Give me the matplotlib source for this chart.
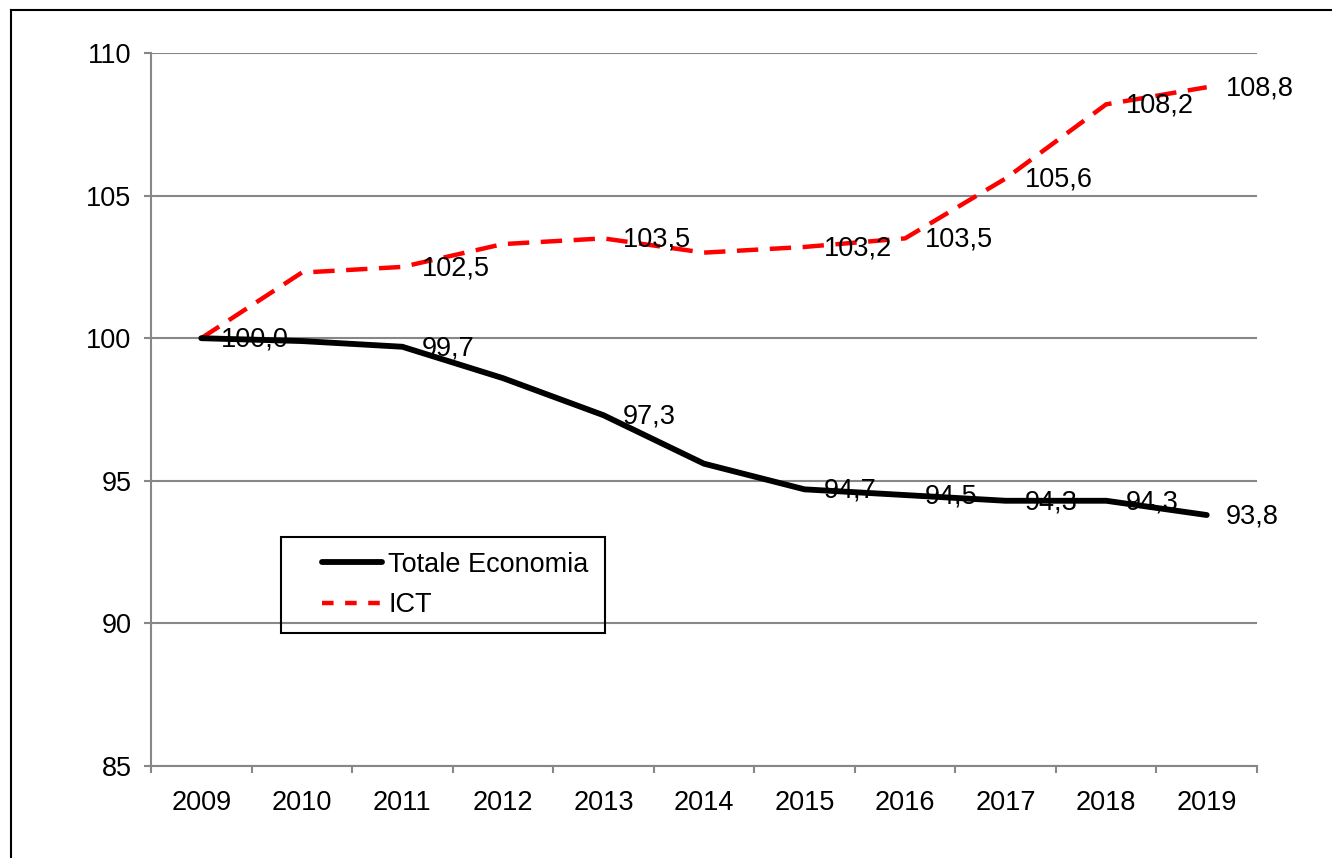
import matplotlib
matplotlib.use("Agg")
import matplotlib.pyplot as plt
from matplotlib.lines import Line2D
from matplotlib.patches import Rectangle

plt.rcParams['font.family'] = ['Liberation Sans Narrow', 'Liberation Sans', 'DejaVu Sans']

years = ['2009', '2010', '2011', '2012', '2013', '2014', '2015', '2016', '2017', '2018', '2019']
totale = [100.0, 99.9, 99.7, 98.6, 97.3, 95.6, 94.7, 94.5, 94.3, 94.3, 93.8]
ict = [100.0, 102.3, 102.5, 103.3, 103.5, 103.0, 103.2, 103.5, 105.6, 108.2, 108.8]
# points that carry a data label in the original
totale_lab = [0, 2, 4, 6, 7, 8, 9, 10]
ict_lab = [2, 4, 6, 7, 8, 9, 10]

fs = 19.5
grid_c = '#878787'

fig = plt.figure(figsize=(13.32, 8.58), dpi=100)
ax = fig.add_axes([151/1332, 1-766/858, (1257-151)/1332, (766-53)/858])

x = range(len(years))
ax.plot(x, ict, color='#ff0000', lw=3.2, dashes=(4.8, 2.6), zorder=3)
ax.plot(x, totale, color='black', lw=4.2, solid_capstyle='round', zorder=4)

for i in totale_lab:
    ax.annotate(f'{totale[i]:.1f}'.replace('.', ','), (i, totale[i]), xytext=(14, -1),
                textcoords='offset points', ha='left', va='center', fontsize=fs, zorder=6)
for i in ict_lab:
    ax.annotate(f'{ict[i]:.1f}'.replace('.', ','), (i, ict[i]), xytext=(14, -1),
                textcoords='offset points', ha='left', va='center', fontsize=fs, zorder=6)

ax.set_xlim(-0.5, len(years) - 0.5)
ax.set_ylim(85, 110)
ax.set_yticks([85, 90, 95, 100, 105, 110])
ax.set_xticks(list(x))
ax.set_xticklabels(years)
ax.set_xticks([i - 0.5 for i in range(len(years) + 1)], minor=True)
ax.yaxis.grid(True, color=grid_c, lw=1.5)
ax.set_axisbelow(True)

for s in ['top', 'right']:
    ax.spines[s].set_visible(False)
for s in ['left', 'bottom']:
    ax.spines[s].set_color(grid_c)
    ax.spines[s].set_linewidth(1.5)

ax.tick_params(axis='x', which='major', length=0, pad=17, labelsize=fs)
ax.tick_params(axis='x', which='minor', length=5, width=1.5, color=grid_c, direction='out')
ax.tick_params(axis='y', length=5, width=1.5, color=grid_c, pad=9, labelsize=fs)

# legend box
fig.patches.append(Rectangle((281/1332, 1-633/858), 324/1332, 96/858, transform=fig.transFigure,
                             fill=False, ec='black', lw=1.5))
handles = [Line2D([], [], color='black', lw=4.2, solid_capstyle='round'),
           Line2D([], [], color='#ff0000', lw=3.2, dashes=(2.6, 2.6))]
fig.legend(handles, ['Totale Economia', 'ICT'], loc='center left',
           bbox_to_anchor=(322/1332, 1-585/858), frameon=False, fontsize=fs,
           borderpad=0, borderaxespad=0,
           handlelength=2.2, handletextpad=0.25, labelspacing=0.55)

# outer frame (left and top edges)
fig.add_artist(Line2D([11/1332, 11/1332], [0, 1-10/858], color='black', lw=1.5, transform=fig.transFigure))
fig.add_artist(Line2D([11/1332, 1], [1-10/858, 1-10/858], color='black', lw=1.5, transform=fig.transFigure))

fig.savefig('out.png', dpi=100)
